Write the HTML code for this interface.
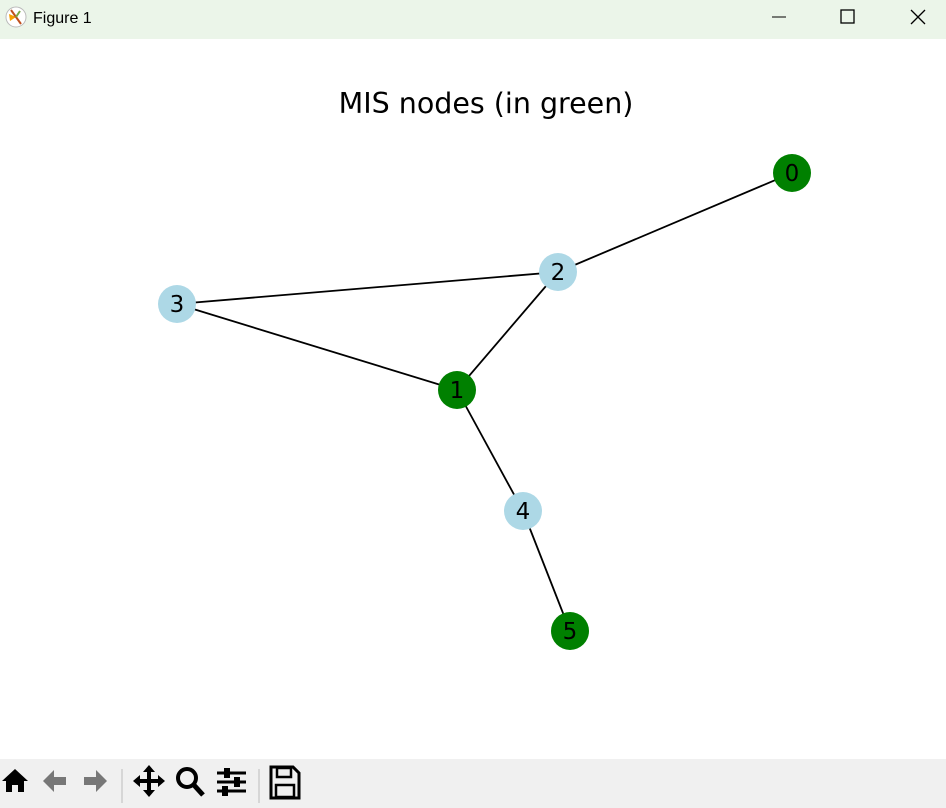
<!DOCTYPE html>
<html><head><style>
body{margin:0;width:946px;height:808px;overflow:hidden;background:#fff;font-family:"Liberation Sans","DejaVu Sans",sans-serif;position:relative}
.tb{position:absolute;left:0;top:0;width:946px;height:39px;background:#ebf5e9}
.bar{position:absolute;left:0;top:759px;width:946px;height:49px;background:#f0f0f0}
</style></head><body>
<div class="tb"></div>
<svg width="946" height="808" style="position:absolute;left:0;top:0">
<circle cx="16" cy="17" r="10" fill="#fff" stroke="#bbb"/>
<path d="M9 14 L16 17 L10 21Z" fill="#f5a000"/><line x1="11" y1="10" x2="21" y2="24" stroke="#c0501e" stroke-width="2"/><line x1="16" y1="17" x2="20" y2="11" stroke="#7a4" stroke-width="2"/>
<text x="33" y="23" font-size="16" font-family="Liberation Sans,sans-serif" fill="#000">Figure 1</text>
<line x1="772" y1="17" x2="786" y2="17" stroke="#000" stroke-width="1"/>
<rect x="841" y="10" width="13" height="13" fill="none" stroke="#000" stroke-width="1.3"/>
<path d="M911 10 L925 24 M925 10 L911 24" stroke="#000" stroke-width="1.3"/>
<text x="486" y="113" font-size="28.5" text-anchor="middle" font-family="DejaVu Sans,sans-serif">MIS nodes (in green)</text>
<g stroke="#000" stroke-width="1.8">
<line x1="792" y1="173" x2="558" y2="272"/>
<line x1="558" y1="272" x2="177" y2="304"/>
<line x1="558" y1="272" x2="457" y2="390"/>
<line x1="177" y1="304" x2="457" y2="390"/>
<line x1="457" y1="390" x2="523" y2="511"/>
<line x1="523" y1="511" x2="570" y2="631"/>
</g>
<g font-size="23" text-anchor="middle" font-family="DejaVu Sans,sans-serif">
<circle cx="792" cy="173" r="19" fill="#008000"/><text x="792" y="181">0</text>
<circle cx="558" cy="272" r="19" fill="#add8e6"/><text x="558" y="280">2</text>
<circle cx="177" cy="304" r="19" fill="#add8e6"/><text x="177" y="312">3</text>
<circle cx="457" cy="390" r="19" fill="#008000"/><text x="457" y="398">1</text>
<circle cx="523" cy="511" r="19" fill="#add8e6"/><text x="523" y="519">4</text>
<circle cx="570" cy="631" r="19" fill="#008000"/><text x="570" y="639">5</text>
</g>
</svg>
<div class="bar"></div>
<svg width="946" height="49" style="position:absolute;left:0;top:759px">
<path d="M2 22 L15 10 L28 22 L24 22 L24 33 L18 33 L18 26 L12 26 L12 33 L6 33 L6 22Z" fill="#000"/>
<path d="M43 22 L54 11 L54 18 L66 18 L66 26 L54 26 L54 33Z" fill="#777"/>
<path d="M107 22 L96 11 L96 18 L84 18 L84 26 L96 26 L96 33Z" fill="#777"/>
<line x1="122" y1="10" x2="122" y2="44" stroke="#bbb"/>
<path d="M149 6 L155 13 L151 13 L151 20 L158 20 L158 16 L165 22 L158 28 L158 24 L151 24 L151 31 L155 31 L149 38 L143 31 L147 31 L147 24 L140 24 L140 28 L133 22 L140 16 L140 20 L147 20 L147 13 L143 13Z" fill="#000"/>
<circle cx="187" cy="19" r="9" fill="none" stroke="#000" stroke-width="4"/><line x1="193" y1="25" x2="203" y2="36" stroke="#000" stroke-width="5"/>
<g stroke="#000" stroke-width="3"><line x1="217" y1="14" x2="246" y2="14"/><line x1="217" y1="23" x2="246" y2="23"/><line x1="217" y1="32" x2="246" y2="32"/></g>
<rect x="224" y="9" width="6" height="10" fill="#000"/><rect x="234" y="18" width="6" height="10" fill="#000"/><rect x="222" y="27" width="6" height="10" fill="#000"/>
<line x1="259" y1="10" x2="259" y2="44" stroke="#bbb"/>
<path d="M271 8 L293 8 L299 14 L299 39 L271 39Z" fill="none" stroke="#000" stroke-width="3"/>
<rect x="277" y="9" width="14" height="9" fill="none" stroke="#000" stroke-width="2.5"/>
<rect x="276" y="26" width="18" height="12" fill="none" stroke="#000" stroke-width="2.5"/>
</svg>
</body></html>
